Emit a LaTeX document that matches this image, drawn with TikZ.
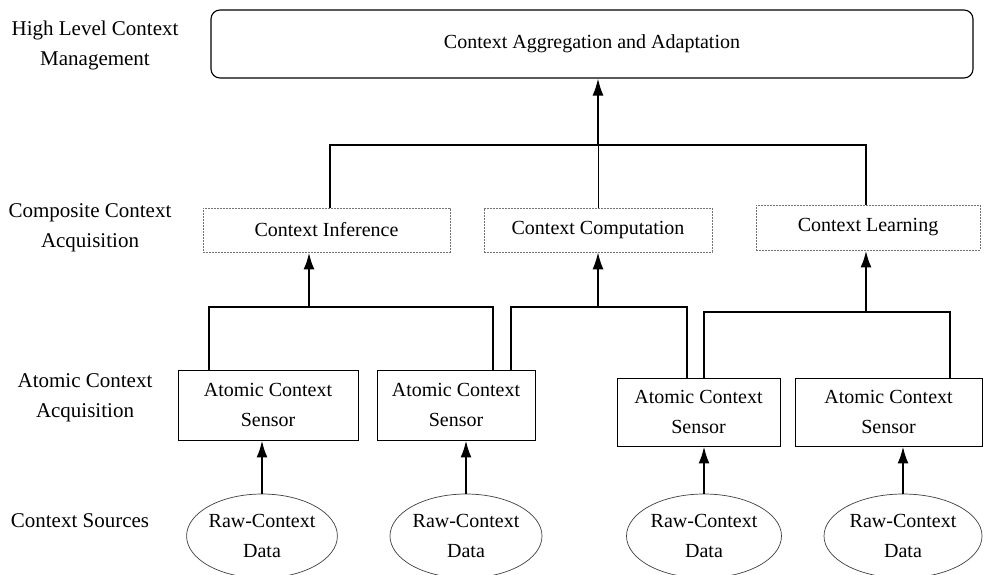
\documentclass[tikz,border=0pt]{standalone}
\usepackage{fontspec}
\setmainfont{Liberation Serif}
\usetikzlibrary{shapes.geometric,arrows.meta}

\tikzset{
  txt/.style={font=\fontsize{20}{30}\selectfont, align=center, inner sep=0pt},
  lvl/.style={font=\fontsize{21}{30}\selectfont, align=center, inner sep=0pt},
  topbox/.style={txt, draw, line width=1.1pt, rounded corners=9pt},
  midbox/.style={txt, draw=black!55, line width=0.7pt, dash pattern=on 2pt off 1pt},
  sensor/.style={txt, draw, line width=0.9pt},
  source/.style={txt, draw=black!75, line width=0.7pt, ellipse},
  conn/.style={line width=2.2pt},
  tip/.style={-{Latex[length=17pt,width=11pt]}},
}

\begin{document}
\begin{tikzpicture}[x=1pt,y=-1pt]
\clip (0,0) rectangle (985,574);
\fill[white] (0,0) rectangle (985,574);

% layer labels
\node[lvl] (l1) at (95,45) {High Level Context\\Management};
\node[lvl] (l2) at (90,228) {Composite Context\\Acquisition};
\node[lvl] (l3) at (85,398) {Atomic Context\\Acquisition};
\node[lvl] (l4) at (80,521) {Context Sources};

% high level
\node[topbox, minimum width=762pt, minimum height=68pt] (top) at (592,44) {Context Aggregation and Adaptation};

% composite level
\node[midbox, minimum width=247pt, minimum height=44pt] (inf) at (326.5,230) {Context Inference};
\node[midbox, minimum width=228pt, minimum height=44pt] (comp) at (598,230) {Context Computation};
\node[midbox, minimum width=224pt, minimum height=45pt] (learn) at (868,227.5) {Context Learning};

% atomic sensors
\node[sensor, minimum width=180pt, minimum height=70pt] (s1) at (268,405) {Atomic Context\\Sensor};
\node[sensor, minimum width=158pt, minimum height=70pt] (s2) at (456,405) {Atomic Context\\Sensor};
\node[sensor, minimum width=163pt, minimum height=68pt] (s3) at (698.5,412) {Atomic Context\\Sensor};
\node[sensor, minimum width=187pt, minimum height=68pt] (s4) at (888.5,412) {Atomic Context\\Sensor};

% raw data sources
\node[source, minimum width=146pt, minimum height=84pt] (r1) at (262,536) {Raw-Context\\Data};
\node[source, minimum width=152pt, minimum height=84pt] (r2) at (466,536) {Raw-Context\\Data};
\node[source, minimum width=155pt, minimum height=84pt] (r3) at (704,536) {Raw-Context\\Data};
\node[source, minimum width=158pt, minimum height=84pt] (r4) at (903,536) {Raw-Context\\Data};

% composite -> high level
\coordinate (hA) at (330,145);
\coordinate (hB) at (866,145);
\draw[conn] (hA |- inf.north) -- (hA) -- (hB) -- (hB |- learn.north);
\draw[line width=1pt] (comp.north) -- (comp.north |- hA);
\draw[line width=1.6pt, tip] (comp.north |- hA) -- (comp.north |- top.south);

% atomic -> composite
\coordinate (jA) at (309,307);
\coordinate (jAl) at (209,307);
\coordinate (jAr) at (493,307);
\draw[conn] (jAl |- s1.north) -- (jAl) -- (jAr) -- (jAr |- s2.north);
\draw[line width=2.6pt, tip] (jA) -- (jA |- inf.south);

\coordinate (jB) at (598,307);
\coordinate (jBl) at (511,307);
\coordinate (jBr) at (687,307);
\draw[conn] (jBl |- s2.north) -- (jBl) -- (jBr) -- (jBr |- s3.north);
\draw[line width=1.6pt, tip] (jB) -- (jB |- comp.south);

\coordinate (jC) at (866,312);
\coordinate (jCl) at (704,312);
\coordinate (jCr) at (950,312);
\draw[conn] (jCl |- s3.north) -- (jCl) -- (jCr) -- (jCr |- s4.north);
\draw[line width=2.6pt, tip] (jC) -- (jC |- learn.south);

% sources -> sensors
\draw[conn, tip] (r1.north) -- (r1.north |- s1.south);
\draw[conn, tip] (r2.north) -- (r2.north |- s2.south);
\draw[conn, tip] (r3.north) -- (r3.north |- s3.south);
\draw[conn, tip] (r4.north) -- (r4.north |- s4.south);
\end{tikzpicture}
\end{document}
